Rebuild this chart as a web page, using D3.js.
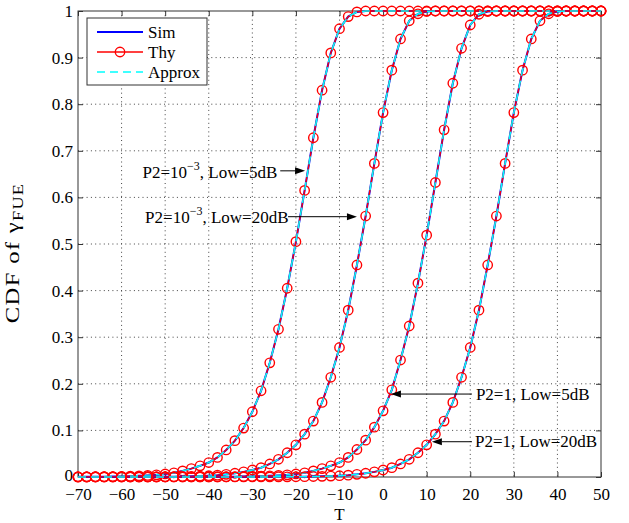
<!DOCTYPE html>
<html>
<head>
<meta charset="utf-8">
<script src="https://cdn.jsdelivr.net/npm/d3@7"></script>
<style>
  html, body { margin: 0; padding: 0; background: #fff; }
  svg { display: block; }
  text { font-family: "Liberation Serif", "Times New Roman", serif; fill: #000; }
</style>
</head>
<body>
<svg id="chart" width="629" height="523"></svg>
<script>
// ---------------- data ----------------
const T = [-70,-68,-66,-64,-62,-60,-58,-56,-54,-52,-50,-48,-46,-44,-42,-40,-38,-36,-34,-32,
  -30,-28,-26,-24,-22,-20,-18,-16,-14,-12,-10,-8,-6,-4,-2,0,2,4,6,8,
  10,12,14,16,18,20,22,24,26,28,30,32,34,36,38,40,42,44,46,48,50];

// P2=10^-3, Low=5dB
const cdfP2e3Low5 = [0.0003,0.0004,0.0005,0.0007,0.0009,0.0013,0.0018,0.0025,0.0034,0.0047,
  0.0065,0.009,0.013,0.018,0.024,0.031,0.042,0.058,0.078,0.105,
  0.14,0.185,0.245,0.317,0.405,0.505,0.615,0.728,0.83,0.91,
  0.962,0.988,0.998,1,1,1,1,1,1,1,
  1,1,1,1,1,1,1,1,1,1,1,1,1,1,1,1,1,1,1,1,1];

// P2=10^-3, Low=20dB
const cdfP2e3Low20 = [0.0001,0.0001,0.0001,0.0001,0.0001,0.0001,0.0001,0.0002,0.0003,0.0004,
  0.0005,0.0007,0.001,0.0014,0.002,0.0028,0.004,0.0057,0.008,0.011,
  0.015,0.020,0.028,0.038,0.052,0.069,0.092,0.12,0.16,0.214,
  0.278,0.358,0.455,0.56,0.673,0.782,0.873,0.94,0.979,0.994,
  0.999,1,1,1,1,1,1,1,1,1,1,1,1,1,1,1,1,1,1,1,1];

// P2=1, Low=5dB
const cdfP1Low5 = [0.0001,0.0001,0.0001,0.0001,0.0001,0.0001,0.0001,0.0001,0.0001,0.0001,
  0.0001,0.0001,0.0001,0.0002,0.0002,0.0003,0.0004,0.0005,0.0007,0.0009,
  0.0013,0.0018,0.0025,0.0034,0.0047,0.0065,0.009,0.013,0.018,0.024,
  0.031,0.042,0.059,0.079,0.107,0.142,0.187,0.251,0.324,0.416,
  0.519,0.632,0.745,0.845,0.92,0.97,0.993,0.999,1,1,1,1,1,1,1,1,1,1,1,1,1];

// P2=1, Low=20dB
const cdfP1Low20 = [0.0001,0.0001,0.0001,0.0001,0.0001,0.0001,0.0001,0.0001,0.0001,0.0001,
  0.0001,0.0001,0.0001,0.0001,0.0001,0.0001,0.0001,0.0001,0.0001,0.0001,
  0.0001,0.0001,0.0002,0.0003,0.0004,0.0005,0.0007,0.001,0.0014,0.002,
  0.0028,0.004,0.0057,0.008,0.011,0.015,0.020,0.028,0.038,0.052,
  0.069,0.092,0.12,0.16,0.214,0.278,0.358,0.455,0.56,0.673,
  0.782,0.873,0.94,0.979,0.994,0.999,1,1,1,1,1];

// Sim, Thy and Approx coincide in the figure
const thyCurves = [cdfP2e3Low5, cdfP2e3Low20, cdfP1Low5, cdfP1Low20];
const simCurves = [cdfP2e3Low5, cdfP2e3Low20, cdfP1Low5, cdfP1Low20];
const approxCurves = [cdfP2e3Low5, cdfP2e3Low20, cdfP1Low5, cdfP1Low20];

const xTicks = [-70,-60,-50,-40,-30,-20,-10,0,10,20,30,40,50];
const yTicks = [0,0.1,0.2,0.3,0.4,0.5,0.6,0.7,0.8,0.9,1];
const legendLabels = ["Sim", "Thy", "Approx"];

// annotations: text pieces, arrow tip T, tail T, text anchor (T, cdf), arrow level
const annotations = [
  {pre: "P2=10", sup: "\u22123", post: ", Low=5dB", tip: -17.9, tail: -23.6, text: [-55.2, 0.642], arrowY: 0.657},
  {pre: "P2=10", sup: "\u22123", post: ", Low=20dB", tip: -6.0, tail: -21.8, text: [-54.6, 0.545], arrowY: 0.5586},
  {pre: "P2=1, Low=5dB", sup: "", post: "", tip: 1.8, tail: 20.4, text: [21.3, 0.165], arrowY: 0.178},
  {pre: "P2=1, Low=20dB", sup: "", post: "", tip: 11.2, tail: 20.4, text: [21.1, 0.064], arrowY: 0.0757}
];

// ---------------- drawing ----------------
(function () {
const svg = d3.select("#chart");
const W = 629, H = 523;
const pL = 78, pR = 601, pT = 11, pB = 477;
const x = d3.scaleLinear().domain([-70, 50]).range([pL, pR]);
const y = d3.scaleLinear().domain([0, 1]).range([pB, pT]);
const FS = 17;

svg.append("rect").attr("width", W).attr("height", H).attr("fill", "#fff");

// grid
const grid = svg.append("g");
grid.selectAll("line.vx").data(xTicks.slice(1, -1)).join("line")
  .attr("x1", d => x(d)).attr("x2", d => x(d)).attr("y1", pT).attr("y2", pB)
  .attr("stroke", "#444").attr("stroke-width", 1).attr("stroke-dasharray", "1,3.3");
grid.selectAll("line.hy").data(yTicks.slice(1, -1)).join("line")
  .attr("x1", pL).attr("x2", pR).attr("y1", d => y(d)).attr("y2", d => y(d))
  .attr("stroke", "#444").attr("stroke-width", 1).attr("stroke-dasharray", "1,3.3");

// axes
const axColor = "#333";
const gx = svg.append("g").attr("transform", `translate(0,${pB})`)
  .call(d3.axisBottom(x).tickValues(xTicks).tickSize(-5).tickSizeOuter(0).tickPadding(11).tickFormat(d3.format("")));
const gy = svg.append("g").attr("transform", `translate(${pL},0)`)
  .call(d3.axisLeft(y).tickValues(yTicks).tickSize(-5).tickSizeOuter(0).tickPadding(5).tickFormat(d3.format("")));
const gxt = svg.append("g").attr("transform", `translate(0,${pT})`)
  .call(d3.axisTop(x).tickValues(xTicks).tickSize(-5).tickSizeOuter(0).tickFormat(""));
const gyr = svg.append("g").attr("transform", `translate(${pR},0)`)
  .call(d3.axisRight(y).tickValues(yTicks).tickSize(-5).tickSizeOuter(0).tickFormat(""));
[gx, gy, gxt, gyr].forEach(g => {
  g.select(".domain").remove();
  g.selectAll(".tick line").attr("stroke", axColor);
  g.selectAll("text").attr("font-family", "Liberation Serif").attr("font-size", FS).attr("fill", "#000");
});
gy.selectAll(".tick text").filter(d => d === 0).attr("dy", "0.22em");
svg.append("rect").attr("x", pL).attr("y", pT).attr("width", pR - pL).attr("height", pB - pT)
  .attr("fill", "none").attr("stroke", axColor).attr("stroke-width", 1);

// curves
const line = d3.line().x((d, i) => x(T[i])).y(d => y(d));
const curves = svg.append("g");
thyCurves.forEach((thy, k) => {
  curves.append("path").datum(simCurves[k]).attr("d", line)
    .attr("fill", "none").attr("stroke", "#0000ff").attr("stroke-width", 2);
  curves.append("path").datum(thy).attr("d", line)
    .attr("fill", "none").attr("stroke", "#ff0000").attr("stroke-width", 1.3);
  curves.append("g").selectAll("circle").data(thy).join("circle")
    .attr("cx", (d, i) => x(T[i])).attr("cy", d => y(d)).attr("r", 4.7)
    .attr("fill", "none").attr("stroke", "#ff0000").attr("stroke-width", 1.4);
  curves.append("path").datum(approxCurves[k]).attr("d", line)
    .attr("fill", "none").attr("stroke", "#00ffff").attr("stroke-width", 1.5)
    .attr("stroke-dasharray", "8,5");
});

// annotations
const ann = svg.append("g");
annotations.forEach(a => {
  const yA = y(a.arrowY);
  const xTip = x(a.tip), xTail = x(a.tail);
  const dir = xTip > xTail ? 1 : -1;
  const headLen = 10, headW = 3.5;
  ann.append("line").attr("x1", xTail).attr("x2", xTip - dir * headLen).attr("y1", yA).attr("y2", yA)
    .attr("stroke", "#000").attr("stroke-width", 1);
  ann.append("path")
    .attr("d", `M${xTip},${yA} L${xTip - dir * headLen},${yA - headW} L${xTip - dir * headLen},${yA + headW} Z`)
    .attr("fill", "#000");
  const t = ann.append("text").attr("x", x(a.text[0])).attr("y", y(a.text[1]))
    .attr("font-size", FS);
  t.append("tspan").text(a.pre);
  if (a.sup) {
    t.append("tspan").attr("font-size", 12).attr("dy", -8).text(a.sup);
    t.append("tspan").attr("dy", 8).text(a.post);
  }
});

// axis labels
svg.append("text").attr("x", (pL + pR) / 2).attr("y", 520).attr("text-anchor", "middle")
  .attr("font-size", FS).text("T");
const yl = svg.append("text").attr("transform", `translate(19,253) rotate(-90) scale(1.3,1)`)
  .attr("text-anchor", "middle").attr("font-size", 19).attr("letter-spacing", 1);
yl.append("tspan").text("CDF of \u03B3");
yl.append("tspan").attr("font-size", 14).attr("dy", 4).text("FUE");

// legend
const lg = svg.append("g");
lg.append("rect").attr("x", 87).attr("y", 18).attr("width", 120).attr("height", 67)
  .attr("fill", "#fff").attr("stroke", axColor).attr("stroke-width", 1);
const legendStyles = [
  {stroke: "#0000ff", width: 2, dash: null, marker: false},
  {stroke: "#ff0000", width: 1.3, dash: null, marker: true},
  {stroke: "#00ffff", width: 1.5, dash: "8,5", marker: false}
];
legendLabels.forEach((lab, i) => {
  const ly = 32 + i * 20;
  const s = legendStyles[i];
  lg.append("line").attr("x1", 97).attr("x2", 143).attr("y1", ly).attr("y2", ly)
    .attr("stroke", s.stroke).attr("stroke-width", s.width).attr("stroke-dasharray", s.dash);
  if (s.marker) lg.append("circle").attr("cx", 120).attr("cy", ly).attr("r", 4.7)
    .attr("fill", "none").attr("stroke", s.stroke).attr("stroke-width", 1.4);
  lg.append("text").attr("x", 148).attr("y", ly + 6).attr("font-size", FS).text(lab);
});
})();
</script>
</body>
</html>
